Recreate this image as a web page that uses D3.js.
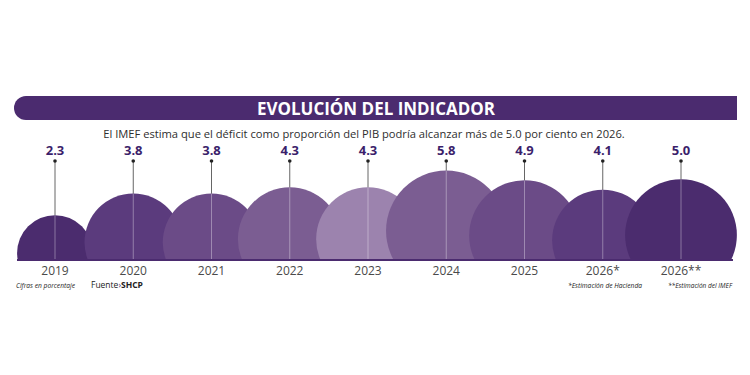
<!DOCTYPE html>
<html lang="es">
<head>
    <meta charset="utf-8">
    <title>Evolución del indicador</title>
    <script src="https://cdn.jsdelivr.net/npm/d3@7"></script>
</head>
<style>
    body {
        margin: 0;
        padding: 0;
        background-color: #ffffff;
        font-family: "Open Sans", sans-serif;
    }
    .year-label {
        font-size: 12px;
        fill: #4a4a4a;
    }
    .value-label {
        font-size: 13px;
        font-weight: bold;
        fill: #3b1f6b;
    }
    .note {
        font-size: 8px;
        font-style: italic;
        fill: #222;
    }
</style>
<body>
    <svg width="750" height="375" id="chart"></svg>

    <script>
        // data
        var years = ["2019", "2020", "2021", "2022", "2023", "2024", "2025", "2026*", "2026**"];
        var values = [2.3, 3.8, 3.8, 4.3, 4.3, 5.8, 4.9, 4.1, 5.0];
        var fills = ["#4b2c6e", "#5b3b7d", "#6b4b87", "#7b5d92", "#9c83ae", "#7b5d92", "#6b4b87", "#5b3b7d", "#4b2c6e"];

        var title = "EVOLUCIÓN DEL INDICADOR";
        var subtitle = "El IMEF estima que el déficit como proporción del PIB podría alcanzar más de 5.0 por ciento en 2026.";

        var data = years.map(function(y, i) {
            return {year: y, value: values[i], fill: fills[i]};
        });

        var svg = d3.select("#chart");
        var baseY = 260,   // visible baseline
            floorY = 291;  // circles rest on this hidden line

        var x = d3.scalePoint()
            .domain(years)
            .range([55, 681]);

        var r = d3.scaleSqrt()
            .domain([0, d3.max(values)])
            .range([0, 60.2]);

        // title bar, rounded on the left only
        var barL = 14, barR = 737, barT = 96, barB = 120, rad = 12;
        svg.append("path")
            .attr("d", "M" + (barL + rad) + "," + barT + " L" + barR + "," + barT + " L" + barR + "," + barB +
                " L" + (barL + rad) + "," + barB + " A" + rad + "," + rad + " 0 0 1 " + (barL + rad) + "," + barT + " Z")
            .style("fill", "#4b2b6f");

        svg.append("text")
            .attr("x", 376)
            .attr("y", 115)
            .attr("text-anchor", "middle")
            .attr("textLength", 238)
            .attr("lengthAdjust", "spacingAndGlyphs")
            .style("font-size", "18px")
            .style("font-weight", "bold")
            .style("fill", "#fff")
            .text(title);

        // subtitle: shrink the font until it fits the width seen in the reference
        var sub = svg.append("text")
            .attr("x", 364)
            .attr("y", 138)
            .attr("text-anchor", "middle")
            .style("font-size", "14px")
            .style("fill", "#2e2e2e")
            .text(subtitle);
        var subW = sub.node().getComputedTextLength();
        if (subW > 522) sub.style("font-size", (14 * 522 / subW) + "px");

        // stems above the circles
        svg.selectAll(".stem")
            .data(data)
            .enter()
            .append("line")
            .attr("class", "stem")
            .attr("x1", function(d) { return x(d.year); })
            .attr("x2", function(d) { return x(d.year); })
            .attr("y1", 161)
            .attr("y2", function(d) { return floorY - 2 * r(d.value) + 2; })
            .style("stroke", "#666")
            .style("stroke-width", 1);

        svg.selectAll(".dot")
            .data(data)
            .enter()
            .append("circle")
            .attr("cx", function(d) { return x(d.year); })
            .attr("cy", 161)
            .attr("r", 1.8)
            .style("fill", "#222");

        svg.append("clipPath")
            .attr("id", "clip")
            .append("rect")
            .attr("x", 0)
            .attr("y", 0)
            .attr("width", 750)
            .attr("height", baseY);

        var bubbles = svg.append("g").attr("clip-path", "url(#clip)");

        bubbles.selectAll("circle")
            .data(data)
            .enter()
            .append("circle")
            .attr("cx", function(d) { return x(d.year); })
            .attr("cy", function(d) { return floorY - r(d.value); })
            .attr("r", function(d) { return r(d.value); })
            .style("fill", function(d) { return d.fill; });

        // light line inside each circle
        bubbles.selectAll(".inner")
            .data(data)
            .enter()
            .append("line")
            .attr("x1", function(d) { return x(d.year); })
            .attr("x2", function(d) { return x(d.year); })
            .attr("y1", function(d) { return floorY - 2 * r(d.value); })
            .attr("y2", baseY)
            .style("stroke", "rgba(255,255,255,0.35)")
            .style("stroke-width", 1);

        svg.append("line")
            .attr("x1", 17)
            .attr("x2", 733)
            .attr("y1", baseY)
            .attr("y2", baseY)
            .style("stroke", "#4b2b6f")
            .style("stroke-width", 2);

        svg.selectAll(".value-label")
            .data(data)
            .enter()
            .append("text")
            .attr("class", "value-label")
            .attr("x", function(d) { return x(d.year); })
            .attr("y", 155)
            .attr("text-anchor", "middle")
            .text(function(d) { return d.value.toFixed(1); });

        svg.selectAll(".year-label")
            .data(data)
            .enter()
            .append("text")
            .attr("class", "year-label")
            .attr("x", function(d) { return x(d.year); })
            .attr("y", 275)
            .attr("text-anchor", "middle")
            .text(function(d) { return d.year; });

        // footnotes
        svg.append("text").attr("class", "note").attr("x", 16).attr("y", 288)
            .attr("textLength", 59).attr("lengthAdjust", "spacingAndGlyphs")
            .text("Cifras en porcentaje");

        var src = svg.append("text").attr("x", 91).attr("y", 288)
            .style("font-size", "8.5px").style("fill", "#222");
        src.append("tspan").text("Fuente");
        src.append("tspan").style("fill", "#4b2b6f").text("›");
        src.append("tspan").style("font-weight", "bold").text("SHCP");

        svg.append("text").attr("class", "note").attr("x", 568).attr("y", 288)
            .attr("textLength", 74).attr("lengthAdjust", "spacingAndGlyphs")
            .text("*Estimación de Hacienda");
        svg.append("text").attr("class", "note").attr("x", 668).attr("y", 288)
            .attr("textLength", 64).attr("lengthAdjust", "spacingAndGlyphs")
            .text("**Estimación del IMEF");
    </script>
</body>
</html>
